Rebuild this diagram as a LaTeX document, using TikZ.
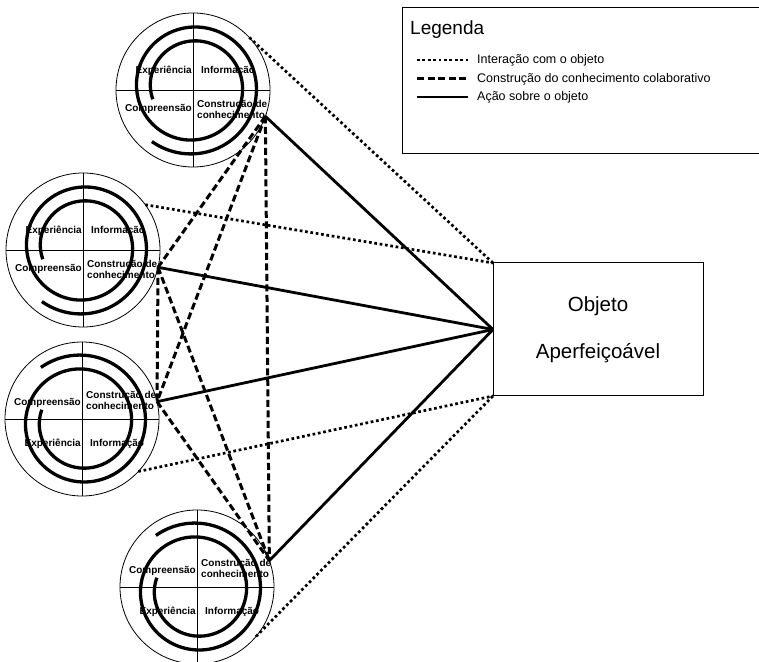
\documentclass[tikz,border=0pt]{standalone}
\usepackage{fontspec}
\setmainfont{Liberation Sans}
\usepackage{tikz}
\usetikzlibrary{positioning}

\begin{document}
\begin{tikzpicture}[x=1pt,y=1pt,
	ciclo/.style={draw,circle,line width=0.8pt,minimum size=154pt,inner sep=0pt,outer sep=0pt},
	eixo/.style={line width=0.8pt},
	espiral/.style={line width=3.3pt},
	rotulo/.style={font=\fontsize{10}{11}\selectfont\bfseries,inner sep=0pt},
	textolegenda/.style={font=\fontsize{12.5}{14}\selectfont,inner sep=0pt,anchor=west},
	interacao/.style={line width=2.7pt,dash pattern=on 2.7pt off 2.7pt},
	colab/.style={line width=3pt,dash pattern=on 7pt off 3.5pt},
	acao/.style={line width=2.8pt}]
		\useasboundingbox (0,0) rectangle (759,661);
		% legenda
		\node[draw,line width=1pt,minimum width=380pt,minimum height=146pt,anchor=north west,inner sep=0pt] (leg) at (402,654) {};
		\node[font=\fontsize{19}{22}\selectfont,anchor=west,inner sep=0pt] (legtit) at (410,631) {Legenda};
		\node[textolegenda] (leg1) at (477,601) {Interação com o objeto};
		\node[textolegenda] (leg2) at (477,582) {Construção do conhecimento colaborativo};
		\node[textolegenda] (leg3) at (477,564) {Ação sobre o objeto};
		\coordinate (l1a) at (417,601); \coordinate (l1b) at (468,601);
		\coordinate (l2a) at (417,582); \coordinate (l2b) at (468,582);
		\coordinate (l3a) at (417,564); \coordinate (l3b) at (468,564);
		\draw[interacao] (l1a) -- (l1b);
		\draw[colab] (l2a) -- (l2b);
		\draw[acao] (l3a) -- (l3b);
		% objeto
		\node[draw,line width=1pt,minimum width=210pt,minimum height=133pt,align=center,font=\fontsize{20.5}{47}\selectfont,inner sep=0pt,outer sep=0pt] (obj) at (598,331.5) {Objeto\\Aperfeiçoável};
		% ciclos
		\node[ciclo] (c1) at (193,571) {};
		\node[ciclo] (c2) at (83,411) {};
		\node[ciclo] (c3) at (82,242) {};
		\node[ciclo] (c4) at (197,74) {};
		\draw[eixo] (c1.north) -- (c1.south); \draw[eixo] (c1.west) -- (c1.east);
		\draw[eixo] (c2.north) -- (c2.south); \draw[eixo] (c2.west) -- (c2.east);
		\draw[eixo] (c3.north) -- (c3.south); \draw[eixo] (c3.west) -- (c3.east);
		\draw[eixo] (c4.north) -- (c4.south); \draw[eixo] (c4.west) -- (c4.east);
		\draw[espiral,shift={(c1.center)},yshift=3] plot[domain=0:684,samples=160,smooth] ({197-\x}:{42+\x/26});
		\draw[espiral,shift={(c2.center)},yshift=3] plot[domain=0:684,samples=160,smooth] ({197-\x}:{42+\x/26});
		\draw[espiral,shift={(c3.center)},yshift=-3] plot[domain=0:684,samples=160,smooth] ({163+\x}:{42+\x/26});
		\draw[espiral,shift={(c4.center)},yshift=-3] plot[domain=0:684,samples=160,smooth] ({163+\x}:{42+\x/26});
		\node[rotulo,anchor=east] (c1exp) at ([shift={(-1,19)}]c1.center) {Experiência};
		\node[rotulo,anchor=west] (c1inf) at ([shift={(8,19)}]c1.center) {Informação};
		\node[rotulo,anchor=east] (c1comp) at ([shift={(-1,-19)}]c1.center) {Compreensão};
		\node[rotulo,anchor=west,align=left] (c1cons) at ([shift={(4,-19)}]c1.center) {Construção de\\conhecimento};
		\node[rotulo,anchor=east] (c2exp) at ([shift={(-1,19)}]c2.center) {Experiência};
		\node[rotulo,anchor=west] (c2inf) at ([shift={(8,19)}]c2.center) {Informação};
		\node[rotulo,anchor=east] (c2comp) at ([shift={(-1,-19)}]c2.center) {Compreensão};
		\node[rotulo,anchor=west,align=left] (c2cons) at ([shift={(4,-19)}]c2.center) {Construção de\\conhecimento};
		\node[rotulo,anchor=east] (c3comp) at ([shift={(-1,16)}]c3.center) {Compreensão};
		\node[rotulo,anchor=west,align=left] (c3cons) at ([shift={(4,19)}]c3.center) {Construção de\\conhecimento};
		\node[rotulo,anchor=east] (c3exp) at ([shift={(-1,-25)}]c3.center) {Experiência};
		\node[rotulo,anchor=west] (c3inf) at ([shift={(8,-25)}]c3.center) {Informação};
		\node[rotulo,anchor=east] (c4comp) at ([shift={(-1,16)}]c4.center) {Compreensão};
		\node[rotulo,anchor=west,align=left] (c4cons) at ([shift={(4,19)}]c4.center) {Construção de\\conhecimento};
		\node[rotulo,anchor=east] (c4exp) at ([shift={(-1,-25)}]c4.center) {Experiência};
		\node[rotulo,anchor=west] (c4inf) at ([shift={(8,-25)}]c4.center) {Informação};
		% ligacoes
		\draw[interacao] (c1.43) -- (obj.north west);
		\draw[interacao] (c2.36) -- (obj.north west);
		\draw[interacao] (c3.-43) -- (obj.south west);
		\draw[interacao] (c4.-40) -- (obj.south west);
		\draw[colab] (c1.-20) -- (c2.-13);
		\draw[colab] (c1.-20) -- (c3.13);
		\draw[colab] (c1.-20) -- (c4.20);
		\draw[colab] (c2.-13) -- (c3.13);
		\draw[colab] (c2.-13) -- (c4.20);
		\draw[colab] (c3.13) -- (c4.20);
		\draw[acao] (c1.-20) -- (obj.west);
		\draw[acao] (c2.-13) -- (obj.west);
		\draw[acao] (c3.13) -- (obj.west);
		\draw[acao] (c4.20) -- (obj.west);
	\end{tikzpicture}
\end{document}
